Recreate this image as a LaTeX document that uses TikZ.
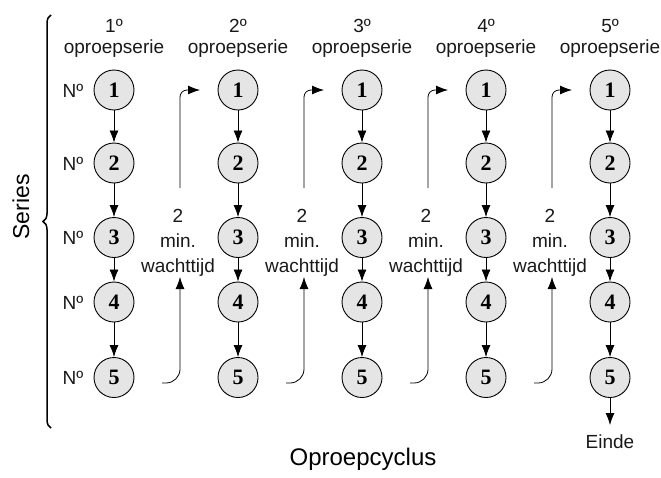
\documentclass[tikz,border=0pt]{standalone}
\usepackage{fontspec}
\setmainfont{Liberation Sans}
\newfontfamily\numfont{Liberation Serif}
\usetikzlibrary{arrows.meta,decorations.pathreplacing}
\begin{document}
\begin{tikzpicture}[x=1pt,y=-1pt,
  txt/.style={font=\fontsize{19}{25}\selectfont, inner sep=0pt, text=black!90},
  sb/.style={circle, draw, line width=0.9pt, fill=black!10, minimum size=40pt, inner sep=0pt,
    font=\numfont\bfseries\fontsize{22}{22}\selectfont},
  arr/.style={-{Latex[length=12pt,width=9pt]}, line width=0.8pt},
]
\useasboundingbox (0,0) rectangle (661,477);

% serie nodes
\foreach \c [count=\i] in {114,238,362,486,610}{
  \node[txt, anchor=base] (h\i) at (\c,32) {\i º};
  \node[txt, anchor=base] (o\i) at (\c,53) {oproepserie};
  \foreach \r/\y in {1/90,2/163,3/237.5,4/302,5/377.5}{
    \node[sb] (n-\i-\r) at (\c,\y) {\r};
  }
  \foreach \r in {1,2,3,4}{
    \pgfmathtruncatemacro{\s}{\r+1}
    \draw[arr] (n-\i-\r) -- (n-\i-\s);
  }
}

% No labels
\foreach \r/\y in {1/90,2/163,3/237.5,4/302,5/377.5}{
  \node[txt, anchor=base] (no\r) at (73,\y+7) {Nº};
}

% waiting loops
\foreach \c [count=\i] in {114,238,362,486}{
  \coordinate (ls\i) at (\c+48,383);
  \coordinate (lt\i) at (\c+66,277);
  \coordinate (us\i) at (\c+66,188);
  \coordinate (ut\i) at (\c+86,90);
  \draw[arr, rounded corners=14pt] (ls\i) -| (lt\i);
  \draw[arr, rounded corners=7pt] (us\i) |- (ut\i);
  \node[txt, align=center] (w\i) at (\c+64,243) {2\\min.\\wachttijd};
}

% end
\coordinate (endtip) at (610,425);
\draw[arr] (n-5-5) -- (endtip);
\node[txt, anchor=base] (einde) at (610,448) {Einde};

% brace and axis labels
\coordinate (bb) at (51,428);
\coordinate (bt) at (51,15);
\draw[decorate, decoration={brace, amplitude=8pt}, line width=1.5pt] (bb) -- (bt);
\node[font=\fontsize{23}{24}\selectfont, rotate=90, inner sep=0pt] (series) at (21,207) {Series};
\node[font=\fontsize{24}{26}\selectfont, anchor=base, inner sep=0pt] (cyclus) at (363,465) {Oproepcyclus};
\end{tikzpicture}
\end{document}
